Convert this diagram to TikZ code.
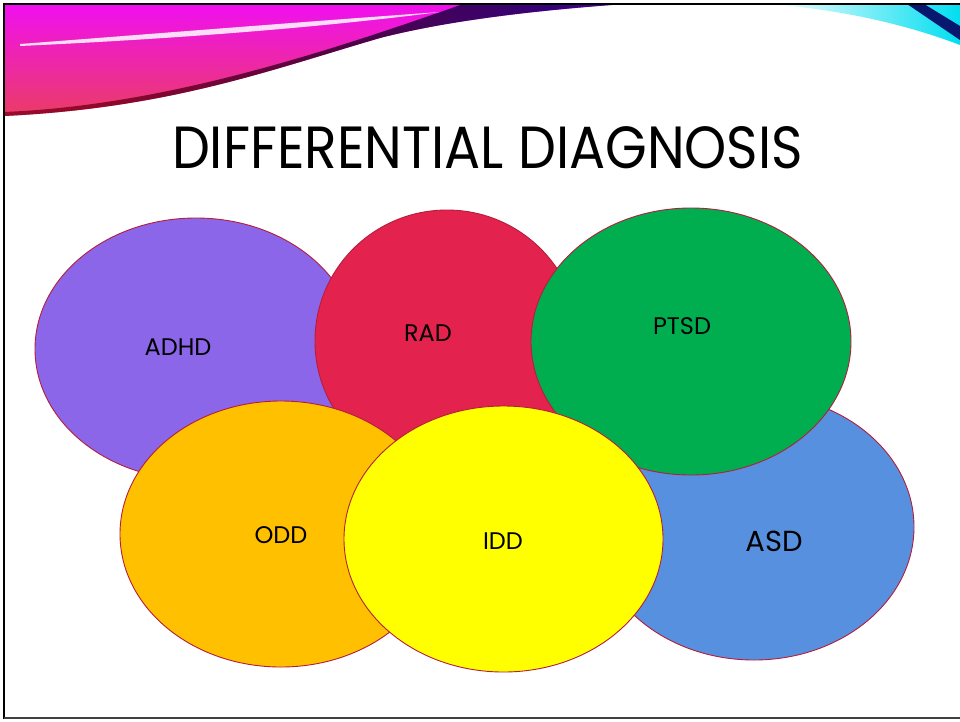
\documentclass[tikz,border=0pt]{standalone}
\usepackage{fontspec}
\setmainfont{Poppins}
\usetikzlibrary{shapes.geometric}
\definecolor{adhdc}{RGB}{139,102,232}
\definecolor{radc}{RGB}{228,34,78}
\definecolor{ptsdc}{RGB}{0,174,80}
\definecolor{asdc}{RGB}{88,144,224}
\definecolor{oddc}{RGB}{255,192,0}
\definecolor{iddc}{RGB}{255,255,0}
\definecolor{edgec}{RGB}{180,30,60}
\definecolor{magc}{RGB}{240,16,240}
\definecolor{pinkredc}{RGB}{234,62,96}
\definecolor{cyanc}{RGB}{0,222,240}
\definecolor{navyc}{RGB}{8,24,110}
\pgfdeclarehorizontalshading{bandshade}{100bp}{color(0bp)=(rgb,255:red,170;green,20;blue,50); color(32bp)=(rgb,255:red,130;green,0;blue,30); color(52bp)=(rgb,255:red,50;green,0;blue,45); color(69bp)=(rgb,255:red,20;green,0;blue,100); color(80bp)=(rgb,255:red,45;green,10;blue,170); color(90bp)=(rgb,255:red,135;green,100;blue,235); color(100bp)=(rgb,255:red,205;green,190;blue,250)}
\tikzset{
  blob/.style={ellipse, draw=edgec, line width=0.9pt, inner sep=0pt, outer sep=0pt},
  lab/.style={font=\fontsize{24}{24}\selectfont, text=black, inner sep=0pt},
}
\begin{document}
\begin{tikzpicture}[x=1pt,y=-1pt]
\useasboundingbox (0,0) rectangle (960,721);
\fill[white] (0,0) rectangle (960,721);
% banner
\begin{scope}
\clip (4,4) -- (625,4) .. controls (540,10) and (450,20) .. (380,38) .. controls (270,70) and (170,108) .. (4,116) -- cycle;
\shade[top color=magc, bottom color=pinkredc] (4,4) rectangle (625,120);
\shade[shading=bandshade, opacity=0.85] (4,116) .. controls (170,108) and (270,70) .. (380,38) .. controls (450,20) and (540,10) .. (625,4) -- (463,4) .. controls (300,62) and (150,106) .. (4,112) -- cycle;
\fill[white, opacity=0.85] (20,44) .. controls (150,34) and (300,22) .. (440,12) .. controls (300,30) and (150,40) .. (20,46) -- cycle;
\end{scope}
\shade[left color=white, right color=cyanc] (765,4) -- (960,4) -- (960,45) .. controls (900,22) and (830,8) .. (765,4) -- cycle;
\fill[navyc] (907,4) -- (924,4) -- (960,26) -- (960,40) -- cycle;
% title
\node (title) at (487.5,147.5) {\resizebox{631pt}{42pt}{\fontsize{60}{60}\selectfont DIFFERENTIAL DIAGNOSIS}};
% ellipses
\node[blob, fill=adhdc, minimum width=322pt, minimum height=262pt] (adhd) at (196,349) {};
\node[blob, fill=radc, minimum width=264pt, minimum height=262pt] (rad) at (447,341) {};
\node[blob, fill=asdc, minimum width=320pt, minimum height=266pt] (asd) at (754,527) {};
\node[blob, fill=ptsdc, minimum width=320pt, minimum height=267pt] (ptsd) at (691,341.5) {};
\node[blob, fill=oddc, minimum width=322pt, minimum height=266pt] (odd) at (281,534) {};
\node[blob, fill=iddc, minimum width=319pt, minimum height=266pt] (idd) at (503.5,539) {};
% labels
\node[lab] (adhdl) at (178,347) {ADHD};
\node[lab] (radl) at (428,333) {RAD};
\node[lab] (ptsdl) at (682,326) {PTSD};
\node[lab] (oddl) at (281,535) {ODD};
\node[lab] (iddl) at (503,541) {IDD};
\node[lab, font=\fontsize{29}{29}\selectfont] (asdl) at (774,541) {ASD};
% frame
\draw[line width=2.5pt, black] (4,719) -- (4,4) -- (960,4);
\draw[line width=1.5pt, black!75] (4,718) -- (960,718);
\end{tikzpicture}
\end{document}
